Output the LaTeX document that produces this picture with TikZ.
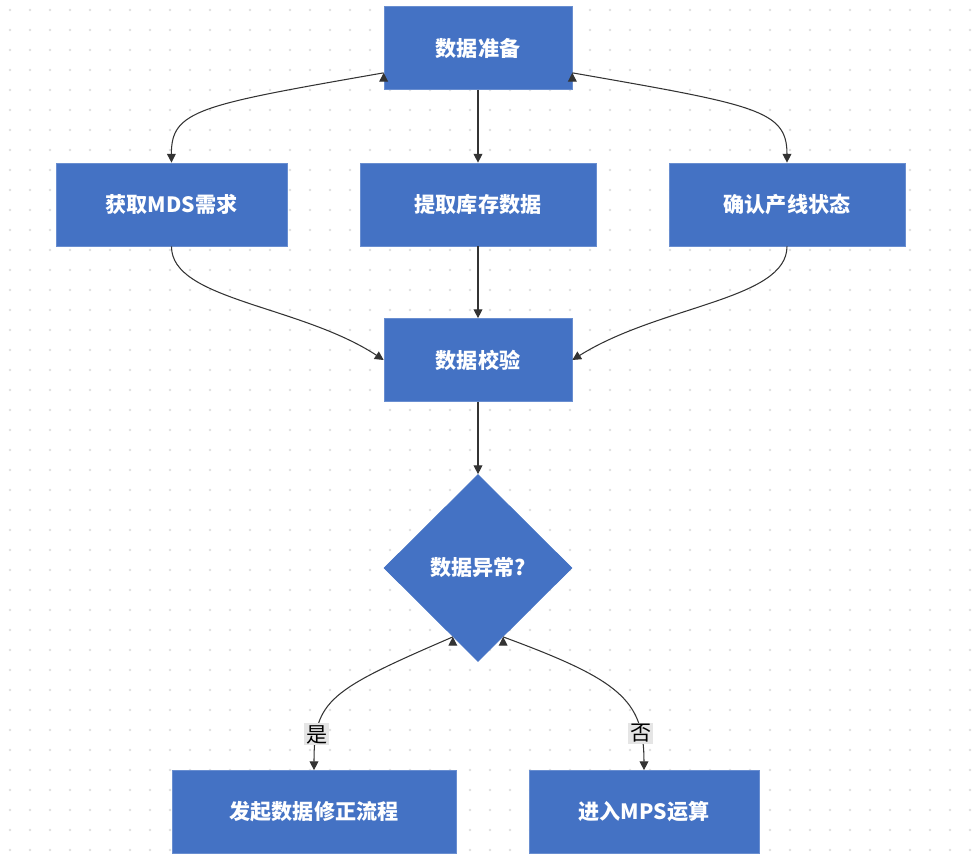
\documentclass[tikz,border=0pt]{standalone}
\usepackage{fontspec}
\setmainfont{Noto Sans CJK SC}
\usetikzlibrary{shapes.geometric,arrows.meta}
\definecolor{boxblue}{HTML}{4472C4}
\definecolor{edgegray}{HTML}{333333}
\tikzset{
  box/.style={draw=boxblue!80!white, fill=boxblue, text=white, font=\bfseries\large, minimum height=1.66cm},
  check/.style={draw=boxblue, fill=boxblue, text=white, font=\bfseries\large, diamond, minimum width=3.76cm, minimum height=3.74cm, inner sep=0pt},
  flow/.style={draw=edgegray, line width=0.6pt, -{Triangle[length=5pt,width=5pt]}},
  tag/.style={fill=gray!20, text=black, font=\large, inner sep=1pt}
}
\begin{document}
\begin{tikzpicture}[x=0.02cm, y=-0.02cm]
  \useasboundingbox (0,0) rectangle (975,862);
  % dotted background
  \foreach \i in {0,...,48} {
    \foreach \j in {0,...,43} {
      \fill[gray!25] (\i*20+10, \j*20+10) circle (0.8pt);
    }
  }
  \node[box, minimum width=3.76cm] (prep) at (478, 48) {数据准备};
  \node[box, minimum width=4.62cm] (mds) at (171.5, 204.5) {获取MDS需求};
  \node[box, minimum width=4.72cm] (stock) at (478, 204.5) {提取库存数据};
  \node[box, minimum width=4.72cm] (line) at (787, 204.5) {确认产线状态};
  \node[box, minimum width=3.76cm] (valid) at (478, 360) {数据校验};
  \node[check] (abn) at (478, 568) {数据异常?};
  \node[box, minimum width=5.68cm] (fix) at (314, 812) {发起数据修正流程};
  \node[box, minimum width=4.6cm] (mps) at (644, 812) {进入MPS运算};

  \draw[flow] (prep.south west) ++(0,-17) coordinate (p1);
  \draw[flow] (p1) .. controls (200,105) and (171,110) .. (mds.north);
  \draw[flow] (prep) -- (stock);
  \draw[flow] (prep.south east) ++(0,-17) coordinate (p2);
  \draw[flow] (p2) .. controls (756,105) and (787,110) .. (line.north);
  \draw[flow] (mds.south) .. controls (171,300) and (300,305) .. (valid.west);
  \draw[flow] (stock) -- (valid);
  \draw[flow] (line.south) .. controls (787,300) and (660,305) .. (valid.east);
  \draw[flow] (valid) -- (abn);
  \draw[flow] (abn.south west) ++(22,22) coordinate (a1);
  \draw[flow] (a1) .. controls (330,690) and (314,700) .. node[tag, pos=0.8] {是} (fix.north);
  \draw[flow] (abn.south east) ++(-22,22) coordinate (a2);
  \draw[flow] (a2) .. controls (620,680) and (644,700) .. node[tag, pos=0.8] {否} (mps.north);
\end{tikzpicture}
\end{document}
